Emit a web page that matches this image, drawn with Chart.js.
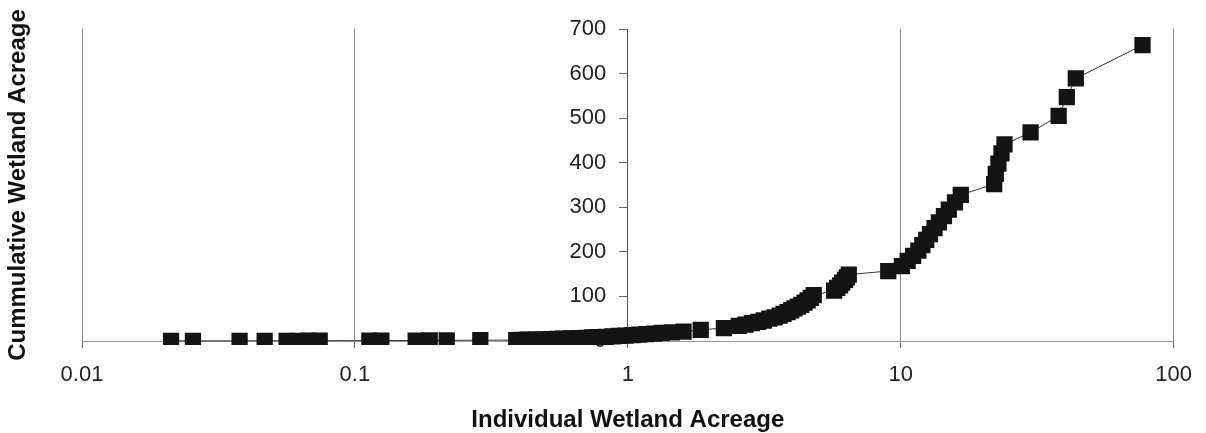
<!DOCTYPE html>
<html>
<head>
<meta charset="utf-8">
<script src="https://cdn.jsdelivr.net/npm/chart.js@4/dist/chart.umd.min.js"></script>
<style>
  html, body { margin: 0; padding: 0; background: #fff; }
  #wrap { width: 1206px; height: 433px; position: relative; }
</style>
</head>
<body>
<div id="wrap"><canvas id="c"></canvas></div>
<script>
// Individual wetland acreage (x, log scale)
const wetlandSizes = [0.0212,0.0255,0.0378,0.0467,0.0562,0.0617,0.0677,0.0743,0.113,0.125,0.167,0.188,0.217,0.288,
  0.39,0.41,0.43,0.46,0.49,0.52,0.55,0.58,0.62,0.66,0.70,0.74,0.78,0.83,0.88,0.93,0.98,
  1.04,1.10,1.17,1.25,1.33,1.45,1.6,1.85,2.25,2.55,2.7,2.85,3.0,3.15,3.3,3.45,3.6,3.72,3.85,3.97,
  4.08,4.2,4.32,4.44,4.56,4.68,4.8,5.7,5.85,6.0,6.1,6.25,6.35,6.45,9.0,10.1,10.6,11.1,11.6,12.0,
  12.4,12.8,13.3,13.8,14.4,15.0,15.8,16.6,22.0,22.3,22.8,23.4,24.0,29.9,37.9,40.6,43.8,76.9];
// Cumulative wetland acreage (y)
const cumulativeAcreage = [0.3,0.3,0.4,0.4,0.5,0.5,0.6,0.7,0.8,0.9,1.1,1.3,1.5,1.8,
  2.0,2.4,2.8,3.2,3.7,4.2,4.7,5.3,5.9,6.5,7.2,7.9,8.7,9.5,10.4,11.3,12.3,
  13.3,14.4,15.6,16.8,18.1,19.6,21.2,25,29,34,37,40,43,46,50,53,57,61,65,69,
  73,77,81,86,91,97,103,113,119,125,131,137,143,149,157,168,180,191,203,215,
  227,240,253,266,280,295,311,328,352,375,398,421,441,468,505,547,589,664];
const xTickValues = [0.01, 0.1, 1, 10, 100];
const yTickMax = 700;
const yTickStep = 100;
const xTitle = 'Individual Wetland Acreage';
const yTitle = 'Cummulative Wetland Acreage';

const FONT = "Arial, 'Liberation Sans', sans-serif";
const points = wetlandSizes.map((v, i) => ({ x: v, y: cumulativeAcreage[i] }));

new Chart(document.getElementById('c'), {
  type: 'scatter',
  data: {
    datasets: [{
      data: points,
      yAxisID: 'y',
      showLine: true,
      borderColor: '#333',
      borderWidth: 1,
      pointStyle: 'rect',
      pointRadius: 11.5,
      pointHoverRadius: 11.5,
      pointBackgroundColor: '#141414',
      pointBorderColor: '#141414',
      pointBorderWidth: 0,
      clip: { left: 20, right: 20, top: 20, bottom: 4 }
    }]
  },
  options: {
    responsive: true,
    maintainAspectRatio: false,
    animation: false,
    devicePixelRatio: 1,
    layout: { padding: { left: 0, right: 30, top: 29, bottom: 0 } },
    plugins: { legend: { display: false }, tooltip: { enabled: false } },
    scales: {
      x: {
        type: 'logarithmic',
        position: 'bottom',
        min: 0.01,
        max: 100,
        afterBuildTicks: (s) => { s.ticks = xTickValues.map(v => ({ value: v, major: true })); },
        afterFit: (s) => { s.height = 92; },
        grid: { color: '#8a8a8a', lineWidth: 1, drawTicks: true, tickLength: 7, tickColor: '#666' },
        border: { color: '#9a9a9a', width: 1 },
        ticks: {
          autoSkip: false,
          maxRotation: 0,
          padding: 14,
          color: '#222',
          font: { family: FONT, size: 22 },
          callback: (v) => String(v)
        },
        title: {
          display: true,
          text: xTitle,
          color: '#111',
          font: { family: FONT, size: 24, weight: 'bold' },
          padding: { top: 0, bottom: -2 }
        }
      },
      // axis line and tick marks crossing at x = 1
      y: {
        type: 'linear',
        position: { x: 1 },
        min: 0,
        max: yTickMax,
        grid: { drawOnChartArea: false, drawTicks: true, tickLength: 8, color: '#666' },
        border: { color: '#555', width: 1 },
        ticks: { stepSize: yTickStep, display: false }
      },
      // tick labels for the crossing axis, set just left of its tick marks
      yLabels: {
        type: 'linear',
        position: { x: 0.834 },
        min: 0,
        max: yTickMax,
        grid: { display: false },
        border: { display: false },
        ticks: {
          stepSize: yTickStep,
          color: '#222',
          font: { family: FONT, size: 22 }
        }
      },
      yTitleAxis: {
        type: 'linear',
        position: 'left',
        min: 0,
        max: 1,
        afterFit: (s) => { s.width = 82; },
        grid: { display: false },
        border: { display: false },
        ticks: { display: false },
        title: {
          display: true,
          text: yTitle,
          color: '#111',
          font: { family: FONT, size: 24, weight: 'bold' },
          padding: { top: 4, bottom: 0 }
        }
      }
    }
  }
});
</script>
</body>
</html>
